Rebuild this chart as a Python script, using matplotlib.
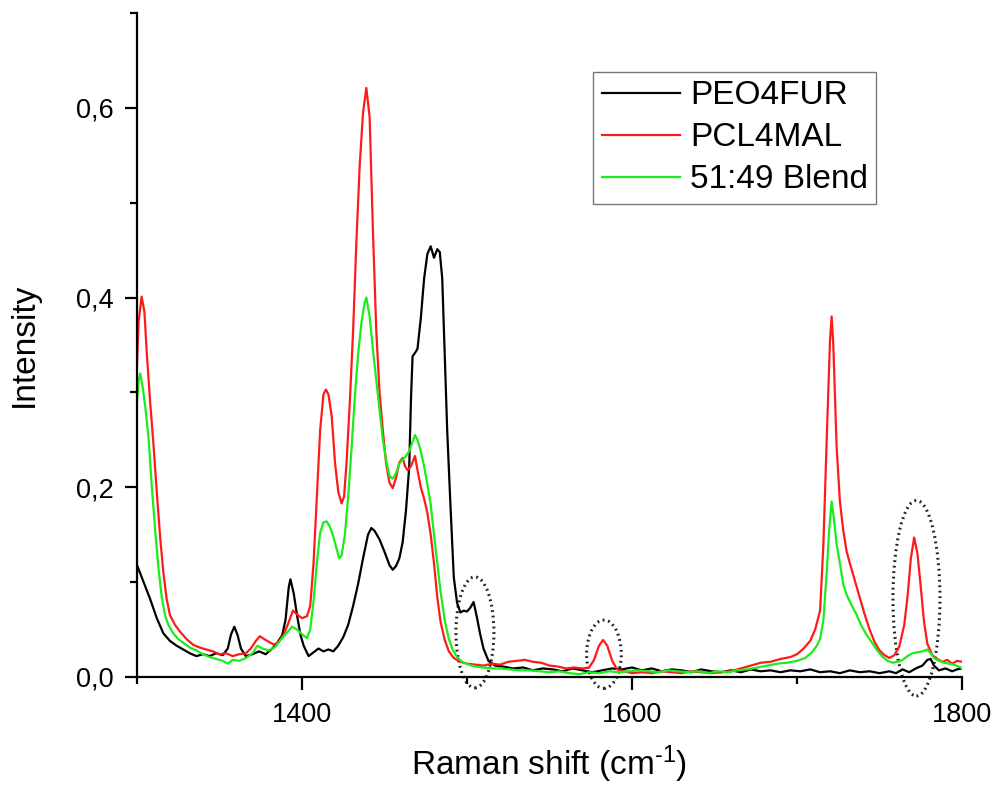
import matplotlib
matplotlib.use("Agg")
import matplotlib.pyplot as plt
from matplotlib.patches import Ellipse

plt.rcParams['font.family'] = ['Liberation Sans', 'DejaVu Sans']
plt.rcParams['mathtext.fontset'] = 'custom'
plt.rcParams['mathtext.rm'] = 'Liberation Sans'
plt.rcParams['mathtext.it'] = 'Liberation Sans'

# PEO4FUR (black)
peo_x = [1300, 1304, 1308, 1312, 1316, 1320, 1324, 1328, 1332, 1336, 1340, 1344, 1348, 1352,
         1355, 1357, 1359, 1361, 1363, 1366, 1370, 1374, 1378, 1382, 1385, 1388, 1390, 1392,
         1393, 1395, 1397, 1399, 1401, 1404, 1407, 1410, 1413, 1416, 1419, 1422, 1425, 1428,
         1431, 1434, 1437, 1440, 1442, 1444, 1447, 1450, 1453, 1455, 1457, 1459, 1461, 1463,
         1465, 1466, 1467, 1469, 1470, 1472, 1474, 1476, 1478, 1480, 1482, 1483.5, 1485, 1486.5,
         1488, 1490, 1492, 1494, 1496, 1498, 1500, 1502, 1504, 1506, 1508, 1510, 1513, 1517,
         1522, 1528, 1534, 1540, 1546, 1552, 1558, 1564, 1570, 1576, 1582, 1588, 1594, 1600,
         1606, 1612, 1618, 1624, 1630, 1636, 1642, 1648, 1654, 1660, 1666, 1672, 1678, 1684,
         1690, 1696, 1702, 1708, 1714, 1720, 1726, 1732, 1738, 1744, 1750, 1756, 1760, 1764,
         1768, 1772, 1776, 1779, 1781, 1783, 1786, 1790, 1794, 1797, 1800]
peo_y = [0.118, 0.100, 0.082, 0.062, 0.046, 0.038, 0.033, 0.029, 0.025, 0.022, 0.024, 0.022, 0.025, 0.023,
         0.030, 0.045, 0.053, 0.044, 0.030, 0.022, 0.024, 0.027, 0.024, 0.030, 0.036, 0.044, 0.060, 0.095,
         0.103, 0.088, 0.065, 0.045, 0.033, 0.022, 0.026, 0.030, 0.027, 0.029, 0.027, 0.033, 0.042, 0.055,
         0.075, 0.098, 0.125, 0.150, 0.157, 0.154, 0.145, 0.132, 0.118, 0.113, 0.117, 0.125, 0.142, 0.175,
         0.222, 0.290, 0.338, 0.343, 0.346, 0.378, 0.420, 0.446, 0.454, 0.442, 0.451, 0.448, 0.420, 0.340,
         0.260, 0.180, 0.105, 0.078, 0.068, 0.070, 0.069, 0.073, 0.079, 0.063, 0.045, 0.030, 0.017, 0.012,
         0.011, 0.009, 0.010, 0.007, 0.009, 0.008, 0.006, 0.009, 0.007, 0.005, 0.007, 0.009, 0.008, 0.010,
         0.007, 0.009, 0.006, 0.008, 0.007, 0.005, 0.008, 0.006, 0.005, 0.007, 0.005, 0.008, 0.006, 0.007,
         0.005, 0.007, 0.006, 0.008, 0.005, 0.006, 0.004, 0.007, 0.005, 0.006, 0.004, 0.006, 0.004, 0.008,
         0.005, 0.009, 0.012, 0.018, 0.019, 0.012, 0.007, 0.009, 0.006, 0.008, 0.009]

# PCL4MAL (red)
pcl_x = [1300, 1301, 1302.8, 1304.5, 1306, 1308, 1310, 1312, 1314, 1316, 1318, 1320, 1323, 1326,
         1330, 1334, 1338, 1342, 1346, 1350, 1354, 1358, 1362, 1366, 1369, 1372, 1374.5, 1377,
         1380, 1383, 1386, 1389, 1392, 1394.5, 1397, 1400, 1403, 1405, 1407, 1409, 1411, 1413,
         1414.5, 1416, 1418, 1420, 1422, 1424, 1425.5, 1427, 1429, 1431, 1433, 1435, 1437, 1439,
         1441, 1443, 1445, 1447, 1449, 1451, 1453, 1455, 1457, 1459, 1461, 1462.5, 1464, 1466,
         1468.5, 1470, 1472, 1474, 1476, 1478, 1480, 1482, 1484, 1486.5, 1489, 1492, 1496, 1500,
         1505, 1510, 1515, 1520, 1525, 1530, 1535, 1540, 1545, 1550, 1555, 1560, 1565, 1570,
         1574, 1577, 1580, 1582.5, 1585, 1588, 1591, 1595, 1600, 1606, 1612, 1618, 1624, 1630,
         1636, 1642, 1648, 1654, 1660, 1666, 1672, 1678, 1684, 1690, 1696, 1700, 1704, 1708,
         1711, 1714, 1716, 1718, 1720, 1721, 1722, 1724, 1726, 1728, 1730, 1732, 1735, 1738,
         1741, 1744, 1747, 1750, 1753, 1756, 1759, 1762, 1765, 1767, 1769, 1771, 1773, 1775,
         1777, 1779, 1782, 1785, 1788, 1791, 1794, 1797, 1800]
pcl_y = [0.330, 0.375, 0.401, 0.385, 0.340, 0.289, 0.245, 0.195, 0.148, 0.110, 0.082, 0.065, 0.055, 0.048,
         0.040, 0.034, 0.031, 0.029, 0.027, 0.024, 0.025, 0.022, 0.024, 0.025, 0.030, 0.038, 0.043, 0.040,
         0.037, 0.034, 0.037, 0.045, 0.058, 0.070, 0.066, 0.062, 0.064, 0.075, 0.120, 0.190, 0.260, 0.298,
         0.303, 0.298, 0.275, 0.226, 0.195, 0.183, 0.190, 0.226, 0.290, 0.366, 0.460, 0.540, 0.595, 0.621,
         0.590, 0.470, 0.366, 0.300, 0.260, 0.225, 0.205, 0.199, 0.210, 0.226, 0.231, 0.222, 0.218, 0.222,
         0.233, 0.218, 0.200, 0.188, 0.173, 0.150, 0.120, 0.084, 0.058, 0.039, 0.027, 0.020, 0.016, 0.014,
         0.013, 0.012, 0.014, 0.013, 0.016, 0.017, 0.018, 0.016, 0.015, 0.012, 0.011, 0.009, 0.010, 0.009,
         0.010, 0.018, 0.033, 0.039, 0.033, 0.017, 0.008, 0.006, 0.004, 0.005, 0.004, 0.006, 0.005, 0.004,
         0.006, 0.005, 0.004, 0.005, 0.006, 0.009, 0.012, 0.015, 0.016, 0.019, 0.021, 0.024, 0.030, 0.038,
         0.050, 0.070, 0.140, 0.250, 0.355, 0.380, 0.350, 0.243, 0.185, 0.155, 0.133, 0.120, 0.102, 0.084,
         0.066, 0.050, 0.037, 0.028, 0.023, 0.020, 0.023, 0.032, 0.055, 0.085, 0.125, 0.147, 0.130, 0.095,
         0.058, 0.035, 0.023, 0.019, 0.016, 0.018, 0.014, 0.017, 0.016]

# 51:49 Blend (green)
blend_x = [1300, 1301, 1302, 1303.5, 1305, 1307, 1309, 1311, 1313, 1315, 1317, 1319, 1322, 1325,
           1328, 1332, 1336, 1340, 1344, 1348, 1352, 1355, 1358, 1362, 1366, 1370, 1373, 1376,
           1380, 1384, 1387, 1390, 1394, 1397, 1400, 1403, 1405, 1407, 1409, 1411, 1413, 1415,
           1417, 1419, 1421, 1422.5, 1424, 1426, 1428, 1430, 1432, 1434, 1436, 1438, 1439, 1441,
           1443, 1445, 1447, 1449, 1451, 1453, 1455, 1457, 1459, 1461, 1463, 1465, 1467, 1468.5,
           1470, 1472, 1474, 1476, 1478, 1480, 1482, 1484, 1486.5, 1489, 1491.5, 1494, 1497, 1501,
           1505, 1510, 1515, 1520, 1526, 1532, 1538, 1544, 1550, 1556, 1562, 1568, 1574, 1580,
           1586, 1592, 1598, 1604, 1610, 1616, 1622, 1628, 1634, 1640, 1646, 1652, 1658, 1664,
           1670, 1676, 1682, 1688, 1694, 1700, 1705, 1709, 1712, 1714, 1716, 1718, 1719.5, 1721,
           1722.5, 1724, 1726, 1728, 1730, 1733, 1736, 1739, 1742, 1745.5, 1749, 1752, 1755, 1758,
           1761, 1764, 1767, 1770, 1773, 1776, 1779, 1781, 1783, 1786, 1789, 1792, 1795, 1798, 1800]
blend_y = [0.290, 0.312, 0.320, 0.305, 0.285, 0.252, 0.200, 0.155, 0.115, 0.084, 0.065, 0.055, 0.046, 0.040,
           0.036, 0.031, 0.028, 0.024, 0.021, 0.019, 0.017, 0.014, 0.018, 0.017, 0.020, 0.025, 0.033, 0.030,
           0.028, 0.032, 0.039, 0.045, 0.053, 0.050, 0.045, 0.041, 0.050, 0.080, 0.120, 0.152, 0.163, 0.164,
           0.158, 0.148, 0.135, 0.125, 0.128, 0.150, 0.190, 0.240, 0.295, 0.340, 0.373, 0.395, 0.400, 0.380,
           0.345, 0.313, 0.280, 0.250, 0.228, 0.212, 0.209, 0.215, 0.225, 0.229, 0.233, 0.238, 0.248, 0.255,
           0.250, 0.238, 0.222, 0.203, 0.182, 0.150, 0.120, 0.090, 0.060, 0.040, 0.028, 0.021, 0.016, 0.013,
           0.011, 0.010, 0.009, 0.009, 0.008, 0.007, 0.007, 0.006, 0.005, 0.006, 0.004, 0.003, 0.005, 0.004,
           0.006, 0.005, 0.006, 0.007, 0.006, 0.005, 0.007, 0.006, 0.005, 0.006, 0.004, 0.006, 0.005, 0.007,
           0.008, 0.010, 0.012, 0.014, 0.015, 0.017, 0.020, 0.026, 0.033, 0.040, 0.060, 0.110, 0.155, 0.185,
           0.165, 0.140, 0.120, 0.098, 0.087, 0.076, 0.066, 0.054, 0.045, 0.036, 0.027, 0.021, 0.017, 0.015,
           0.016, 0.018, 0.022, 0.025, 0.026, 0.027, 0.029, 0.025, 0.020, 0.017, 0.015, 0.014, 0.013, 0.011, 0.009]

# dotted ellipses marking regions of interest: (center x, center y, width, height)
marks = [(1504.8, 0.047, 23, 0.117),
         (1583.0, 0.024, 21, 0.072),
         (1772.4, 0.083, 28.5, 0.206)]

x_ticks = [1400, 1600, 1800]
y_ticks = [0.0, 0.2, 0.4, 0.6]
y_labels = ['0,0', '0,2', '0,4', '0,6']

fig = plt.figure(figsize=(9.97, 7.87), dpi=100)
ax = fig.add_axes([0.1374, 0.1398, 0.8275, 0.8437])

ax.plot(peo_x, peo_y, color='black', lw=1.6, label='PEO4FUR')
ax.plot(pcl_x, pcl_y, color='#ff1a1a', lw=1.6, label='PCL4MAL')
ax.plot(blend_x, blend_y, color='#1aee1a', lw=1.6, label='51:49 Blend')

for cx, cy, w, h in marks:
    ax.add_patch(Ellipse((cx, cy), w, h, fill=False, edgecolor='#222222', lw=2.2,
                         linestyle=(0, (0.6, 1.2)), clip_on=False))

ax.set_xlim(1300, 1800)
ax.set_ylim(0, 0.7)
ax.spines['top'].set_visible(False)
ax.spines['right'].set_visible(False)
for s in ['left', 'bottom']:
    ax.spines[s].set_linewidth(1.6)

ax.set_xticks(x_ticks)
ax.set_xticks([1300, 1500, 1700], minor=True)
ax.set_yticks(y_ticks)
ax.set_yticklabels(y_labels)
ax.set_yticks([0.1, 0.3, 0.5, 0.7], minor=True)
ax.tick_params(which='major', direction='out', length=9, width=1.6, labelsize=19.5)
ax.tick_params(axis='x', which='major', pad=9)
ax.tick_params(axis='y', which='major', pad=8)
ax.tick_params(which='minor', direction='out', length=5, width=1.6)

ax.set_xlabel(r'Raman shift (cm$^{\text{-}1}$)', fontsize=24, labelpad=11)
ax.set_ylabel('Intensity', fontsize=24, labelpad=26)

leg = ax.legend(loc='upper left', bbox_to_anchor=(0.553, 0.911), borderaxespad=0,
                fontsize=24, frameon=True, fancybox=False, handlelength=2.35,
                handletextpad=0.3, labelspacing=0.33, borderpad=0.25)
leg.get_frame().set_edgecolor('#555555')
leg.get_frame().set_linewidth(1.0)

fig.savefig('out.png', dpi=100)
